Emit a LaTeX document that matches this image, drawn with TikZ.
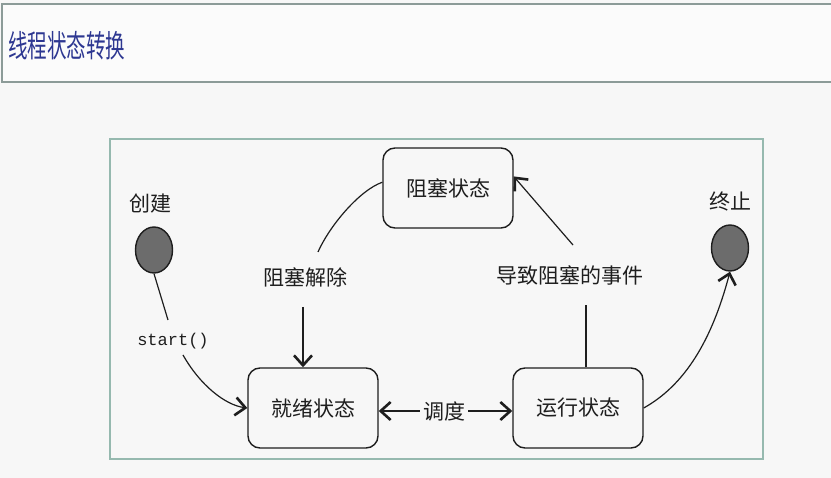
\documentclass[tikz,border=0pt]{standalone}
\usepackage{fontspec}
\newfontfamily\cjk{Noto Sans CJK SC}
\newfontfamily\mono{Liberation Mono}
\usetikzlibrary{arrows.meta,shapes.geometric}
\definecolor{bg}{RGB}{247,247,247}
\definecolor{titleblue}{RGB}{45,55,145}
\definecolor{titleframe}{RGB}{140,155,152}
\definecolor{frame}{RGB}{150,185,175}
\definecolor{dotgray}{RGB}{108,108,108}
\definecolor{ink}{RGB}{30,30,30}
\begin{document}
\begin{tikzpicture}[x=1pt,y=-1pt,
  state/.style={draw=ink, line width=1.4pt, rounded corners=12pt, minimum width=130pt, minimum height=80pt, fill=bg, font=\cjk\fontsize{21}{25}\selectfont, text=ink},
  lbl/.style={font=\cjk\fontsize{21}{25}\selectfont, inner sep=1pt, text=ink},
  monolbl/.style={font=\mono\fontsize{17}{20}\selectfont, inner sep=1pt, text=ink},
  dot/.style={draw=ink, line width=1.4pt, fill=dotgray, ellipse, minimum width=37pt, minimum height=46pt, inner sep=0pt},
  edge/.style={line width=1.2pt, draw=ink},
  tip/.style={-{Straight Barb[length=10pt,width=18pt,line width=2.6pt]}}
]
\fill[bg] (0,0) rectangle (831,478);
\useasboundingbox (0,0) rectangle (831,478);
\draw[titleframe, line width=1.2pt, fill=white!50!bg] (2,4) rectangle (840,82);
\node[anchor=west, inner sep=0pt, text=titleblue, font=\cjk\fontsize{31}{34}\selectfont, xscale=0.63] (title) at (8,46) {线程状态转换};
\draw[frame, line width=1.2pt] (110,139) rectangle (763,459);

\node[state] (zuse) at (448,188) {阻塞状态};
\node[state] (jiuxu) at (313,408) {就绪状态};
\node[state] (yunxing) at (578,408) {运行状态};
\node[dot] (create) at (154,250) {};
\node[dot] (term) at (730,248) {};
\node[lbl] (lcreate) at (150,204) {创建};
\node[lbl] (lterm) at (730,202) {终止};
\node[lbl] (ljiechu) at (305,277) {阻塞解除};
\node[lbl] (lshijian) at (570,275) {导致阻塞的事件};
\node[lbl, fill=bg, inner sep=3pt] (ldiaodu) at (444,411) {调度};
\node[monolbl] (lstart) at (173,341) {start()};

\coordinate (s1) at (168,320);
\coordinate (s2) at (183,355);
\coordinate (j1) at (318,252);
\coordinate (j2) at (303,307);
\coordinate (y1) at (586,305);
\coordinate (y2) at (573,245);

\draw[edge] (create.south) -- (s1);
\draw[edge,tip] (s2) .. controls (200,385) and (225,405) .. (jiuxu.west);
\draw[edge] (zuse.175) .. controls (360,190) and (330,225) .. (j1);
\draw[edge,tip] (j2) -- (jiuxu.north -| j2);
\draw[edge] (yunxing.north -| y1) -- (y1);
\draw[edge,tip] (y2) -- (zuse.10);
\draw[edge,tip] (ldiaodu) -- (yunxing.west |- ldiaodu);
\draw[edge,tip] (ldiaodu) -- (jiuxu.east |- ldiaodu);
\draw[edge,tip] (yunxing.east) .. controls (685,385) and (712,340) .. (term.south);
\end{tikzpicture}
\end{document}
